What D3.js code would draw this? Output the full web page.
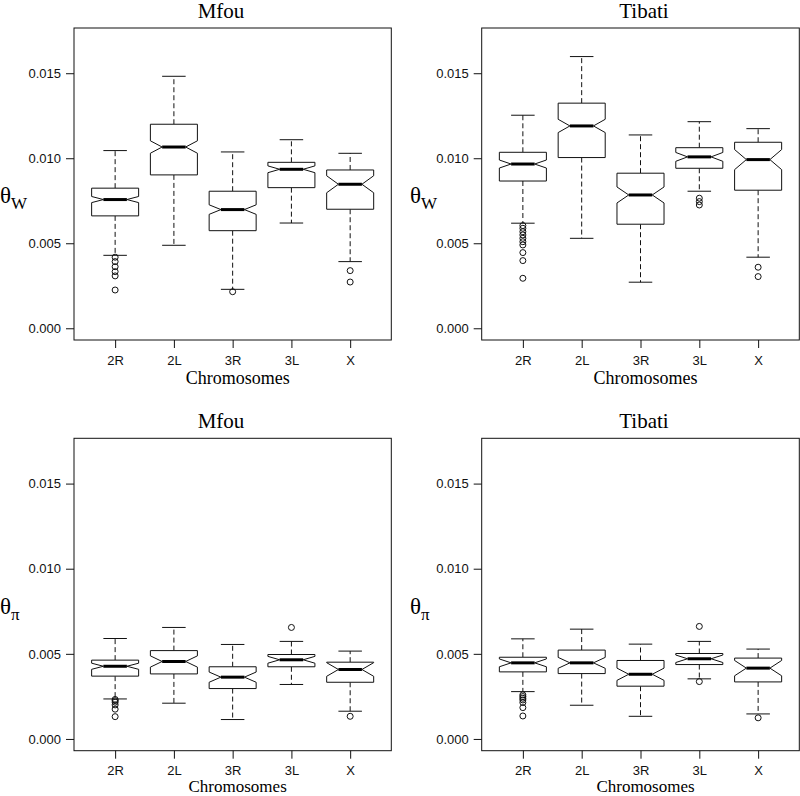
<!DOCTYPE html>
<html>
<head>
<meta charset="utf-8">
<script src="https://cdn.jsdelivr.net/npm/d3@7"></script>
<style>
  html, body { margin: 0; padding: 0; background: #fff; }
  svg { display: block; }
</style>
</head>
<body>
<svg id="chart" width="800" height="796"></svg>
<script>
// ---------- DATA ----------
const chromosomes = ["2R", "2L", "3R", "3L", "X"];
const yTickValues = [0.000, 0.005, 0.010, 0.015];
const panelTitles = ["Mfou", "Tibati", "Mfou", "Tibati"];
const xAxisTitle = "Chromosomes";

// box stats per chromosome: [lower whisker, Q1, median, Q3, upper whisker]
const mfouW_stats = [
  [0.00429, 0.00661, 0.00757, 0.00824, 0.01045],
  [0.00488, 0.00902, 0.01066, 0.01200, 0.01482],
  [0.00229, 0.00574, 0.00698, 0.00806, 0.01037],
  [0.00619, 0.00827, 0.00935, 0.00976, 0.01109],
  [0.00392, 0.00700, 0.00847, 0.00931, 0.01029]
];
const mfouW_notch = [0.00018, 0.000365, 0.00028, 0.00020, 0.00050];
const mfouW_out = [
  [0.00418, 0.00392, 0.00362, 0.00333, 0.00308, 0.00225],
  [],
  [0.00215],
  [],
  [0.00339, 0.00272]
];

const tibatiW_stats = [
  [0.00618, 0.00866, 0.00966, 0.01035, 0.01253],
  [0.00529, 0.01004, 0.01190, 0.01324, 0.01598],
  [0.00271, 0.00612, 0.00784, 0.00912, 0.01137],
  [0.00806, 0.00941, 0.01008, 0.01062, 0.01215],
  [0.00418, 0.00812, 0.00992, 0.01094, 0.01174]
];
const tibatiW_notch = [0.000235, 0.00039, 0.00047, 0.00026, 0.00059];
const tibatiW_out = [
  [0.00604, 0.00588, 0.00568, 0.00549, 0.00529, 0.00509, 0.00490, 0.00445, 0.00398, 0.00294],
  [],
  [],
  [0.00765, 0.00745, 0.00725],
  [0.00359, 0.00304]
];

const mfouPi_stats = [
  [0.00235, 0.00369, 0.00427, 0.00463, 0.00590],
  [0.00210, 0.00382, 0.00455, 0.00519, 0.00655],
  [0.00114, 0.00296, 0.00363, 0.00424, 0.00555],
  [0.00320, 0.00424, 0.00465, 0.00496, 0.00573],
  [0.00163, 0.00333, 0.00408, 0.00451, 0.00516]
];
const mfouPi_notch = [0.00018, 0.00033, 0.00030, 0.00020, 0.00040];
const mfouPi_out = [
  [0.00232, 0.00225, 0.00216, 0.00200, 0.00175, 0.00131],
  [],
  [],
  [0.00655],
  [0.00133]
];

const tibatiPi_stats = [
  [0.00278, 0.00394, 0.00447, 0.00480, 0.00588],
  [0.00198, 0.00384, 0.00447, 0.00522, 0.00645],
  [0.00133, 0.00310, 0.00380, 0.00461, 0.00557],
  [0.00353, 0.00437, 0.00471, 0.00502, 0.00573],
  [0.00147, 0.00335, 0.00416, 0.00475, 0.00528]
];
const tibatiPi_notch = [0.00023, 0.00032, 0.00036, 0.00022, 0.00045];
const tibatiPi_out = [
  [0.00259, 0.00249, 0.00239, 0.00229, 0.00214, 0.00184, 0.00135],
  [],
  [],
  [0.00661, 0.00337],
  [0.00124]
];

// ---------- LAYOUT ----------
const svg = d3.select("#chart");
const sansFont = "'Liberation Sans', Arial, Helvetica, sans-serif";
const serifFont = "'Liberation Serif', 'Times New Roman', serif";
const yDomain = [-0.00069, 0.01766];
const xDomain = [0.3, 5.7];

const panels = [
  { stats: mfouW_stats,   notch: mfouW_notch,   out: mfouW_out,   title: panelTitles[0], sub: "W", x0: 74,    x1: 391.3, y0: 28,    y1: 340,   titleX: 221, thetaX: 0,   xtY: 384, xtSize: 18, tpad: 8 },
  { stats: tibatiW_stats, notch: tibatiW_notch, out: tibatiW_out, title: panelTitles[1], sub: "W", x0: 481.7, x1: 799.3, y0: 28,    y1: 340,   titleX: 644, thetaX: 410, xtY: 384, xtSize: 18, tpad: 8 },
  { stats: mfouPi_stats,  notch: mfouPi_notch,  out: mfouPi_out,  title: panelTitles[2], sub: "π", x0: 74,    x1: 391.3, y0: 438.3, y1: 750.7, titleX: 221, thetaX: 0,   xtY: 792, xtSize: 17, tpad: 7 },
  { stats: tibatiPi_stats,notch: tibatiPi_notch,out: tibatiPi_out,title: panelTitles[3], sub: "π", x0: 481.7, x1: 799.3, y0: 438.3, y1: 750.7, titleX: 644, thetaX: 410, xtY: 792, xtSize: 17, tpad: 7 }
];

const ink = "#111";

panels.forEach((p, pi) => {
  const g = svg.append("g");
  const x = d3.scaleLinear().domain(xDomain).range([p.x0, p.x1]);
  const y = d3.scaleLinear().domain(yDomain).range([p.y1, p.y0]);
  const unit = x(1) - x(0);
  const hw = 0.4 * unit;   // box half width
  const sw = 0.2 * unit;   // staple half width

  // y axis
  const yAxis = d3.axisLeft(y).tickValues(yTickValues).tickFormat(d3.format(".3f")).tickSize(8).tickPadding(5);
  const ya = g.append("g").attr("transform", `translate(${p.x0},0)`).call(yAxis);
  ya.select(".domain").remove();
  ya.selectAll("line").attr("stroke", ink);
  ya.selectAll("text").attr("font-family", sansFont).attr("font-size", 13).attr("fill", ink);

  // x axis
  const xAxis = d3.axisBottom(x).tickValues(d3.range(1, chromosomes.length + 1))
    .tickFormat(i => chromosomes[i - 1]).tickSize(8).tickPadding(p.tpad);
  const xa = g.append("g").attr("transform", `translate(0,${p.y1})`).call(xAxis);
  xa.select(".domain").remove();
  xa.selectAll("line").attr("stroke", ink);
  xa.selectAll("text").attr("font-family", sansFont).attr("font-size", 13).attr("fill", ink);

  // frame
  g.append("rect").attr("x", p.x0).attr("y", p.y0)
    .attr("width", p.x1 - p.x0).attr("height", p.y1 - p.y0)
    .attr("fill", "none").attr("stroke", ink).attr("stroke-width", 1);

  // boxes
  p.stats.forEach((s, i) => {
    const cx = x(i + 1);
    const [lo, q1, med, q3, hi] = s;
    const nLo = med - p.notch[i], nHi = med + p.notch[i];

    // whiskers (dashed)
    g.append("line").attr("x1", cx).attr("x2", cx).attr("y1", y(q3)).attr("y2", y(hi))
      .attr("stroke", ink).attr("stroke-dasharray", "5,3");
    g.append("line").attr("x1", cx).attr("x2", cx).attr("y1", y(q1)).attr("y2", y(lo))
      .attr("stroke", ink).attr("stroke-dasharray", "5,3");
    // staples
    [lo, hi].forEach(v => {
      g.append("line").attr("x1", cx - sw).attr("x2", cx + sw).attr("y1", y(v)).attr("y2", y(v))
        .attr("stroke", ink);
    });

    // notched box
    const pts = [
      [cx - hw, y(q1)], [cx - hw, y(nLo)], [cx - hw / 2, y(med)], [cx - hw, y(nHi)], [cx - hw, y(q3)],
      [cx + hw, y(q3)], [cx + hw, y(nHi)], [cx + hw / 2, y(med)], [cx + hw, y(nLo)], [cx + hw, y(q1)]
    ];
    g.append("path").attr("d", d3.line()(pts) + "Z")
      .attr("fill", "#fff").attr("stroke", ink).attr("stroke-width", 1).attr("stroke-linejoin", "miter");

    // median
    g.append("line").attr("x1", cx - hw / 2).attr("x2", cx + hw / 2).attr("y1", y(med)).attr("y2", y(med))
      .attr("stroke", "#000").attr("stroke-width", 3);

    // outliers
    p.out[i].forEach(v => {
      g.append("circle").attr("cx", cx).attr("cy", y(v)).attr("r", 3)
        .attr("fill", "none").attr("stroke", ink).attr("stroke-width", 1);
    });
  });

  // title
  g.append("text").attr("x", p.titleX).attr("y", p.y0 - 10)
    .attr("text-anchor", "middle").attr("font-family", serifFont).attr("font-size", 21)
    .attr("fill", "#000").text(p.title);

  // x axis title
  g.append("text").attr("x", (p.x0 + p.x1) / 2 + 5).attr("y", p.xtY)
    .attr("text-anchor", "middle").attr("font-family", serifFont).attr("font-size", p.xtSize)
    .attr("fill", "#000").text(xAxisTitle);

  // y axis label: theta with subscript
  const yl = g.append("text").attr("x", p.thetaX).attr("y", (p.y0 + p.y1) / 2 + 19)
    .attr("font-family", serifFont).attr("font-size", 23).attr("fill", "#000");
  yl.append("tspan").text("θ");
  yl.append("tspan").attr("font-size", 17).attr("dy", 6).text(p.sub);
});
</script>
</body>
</html>
